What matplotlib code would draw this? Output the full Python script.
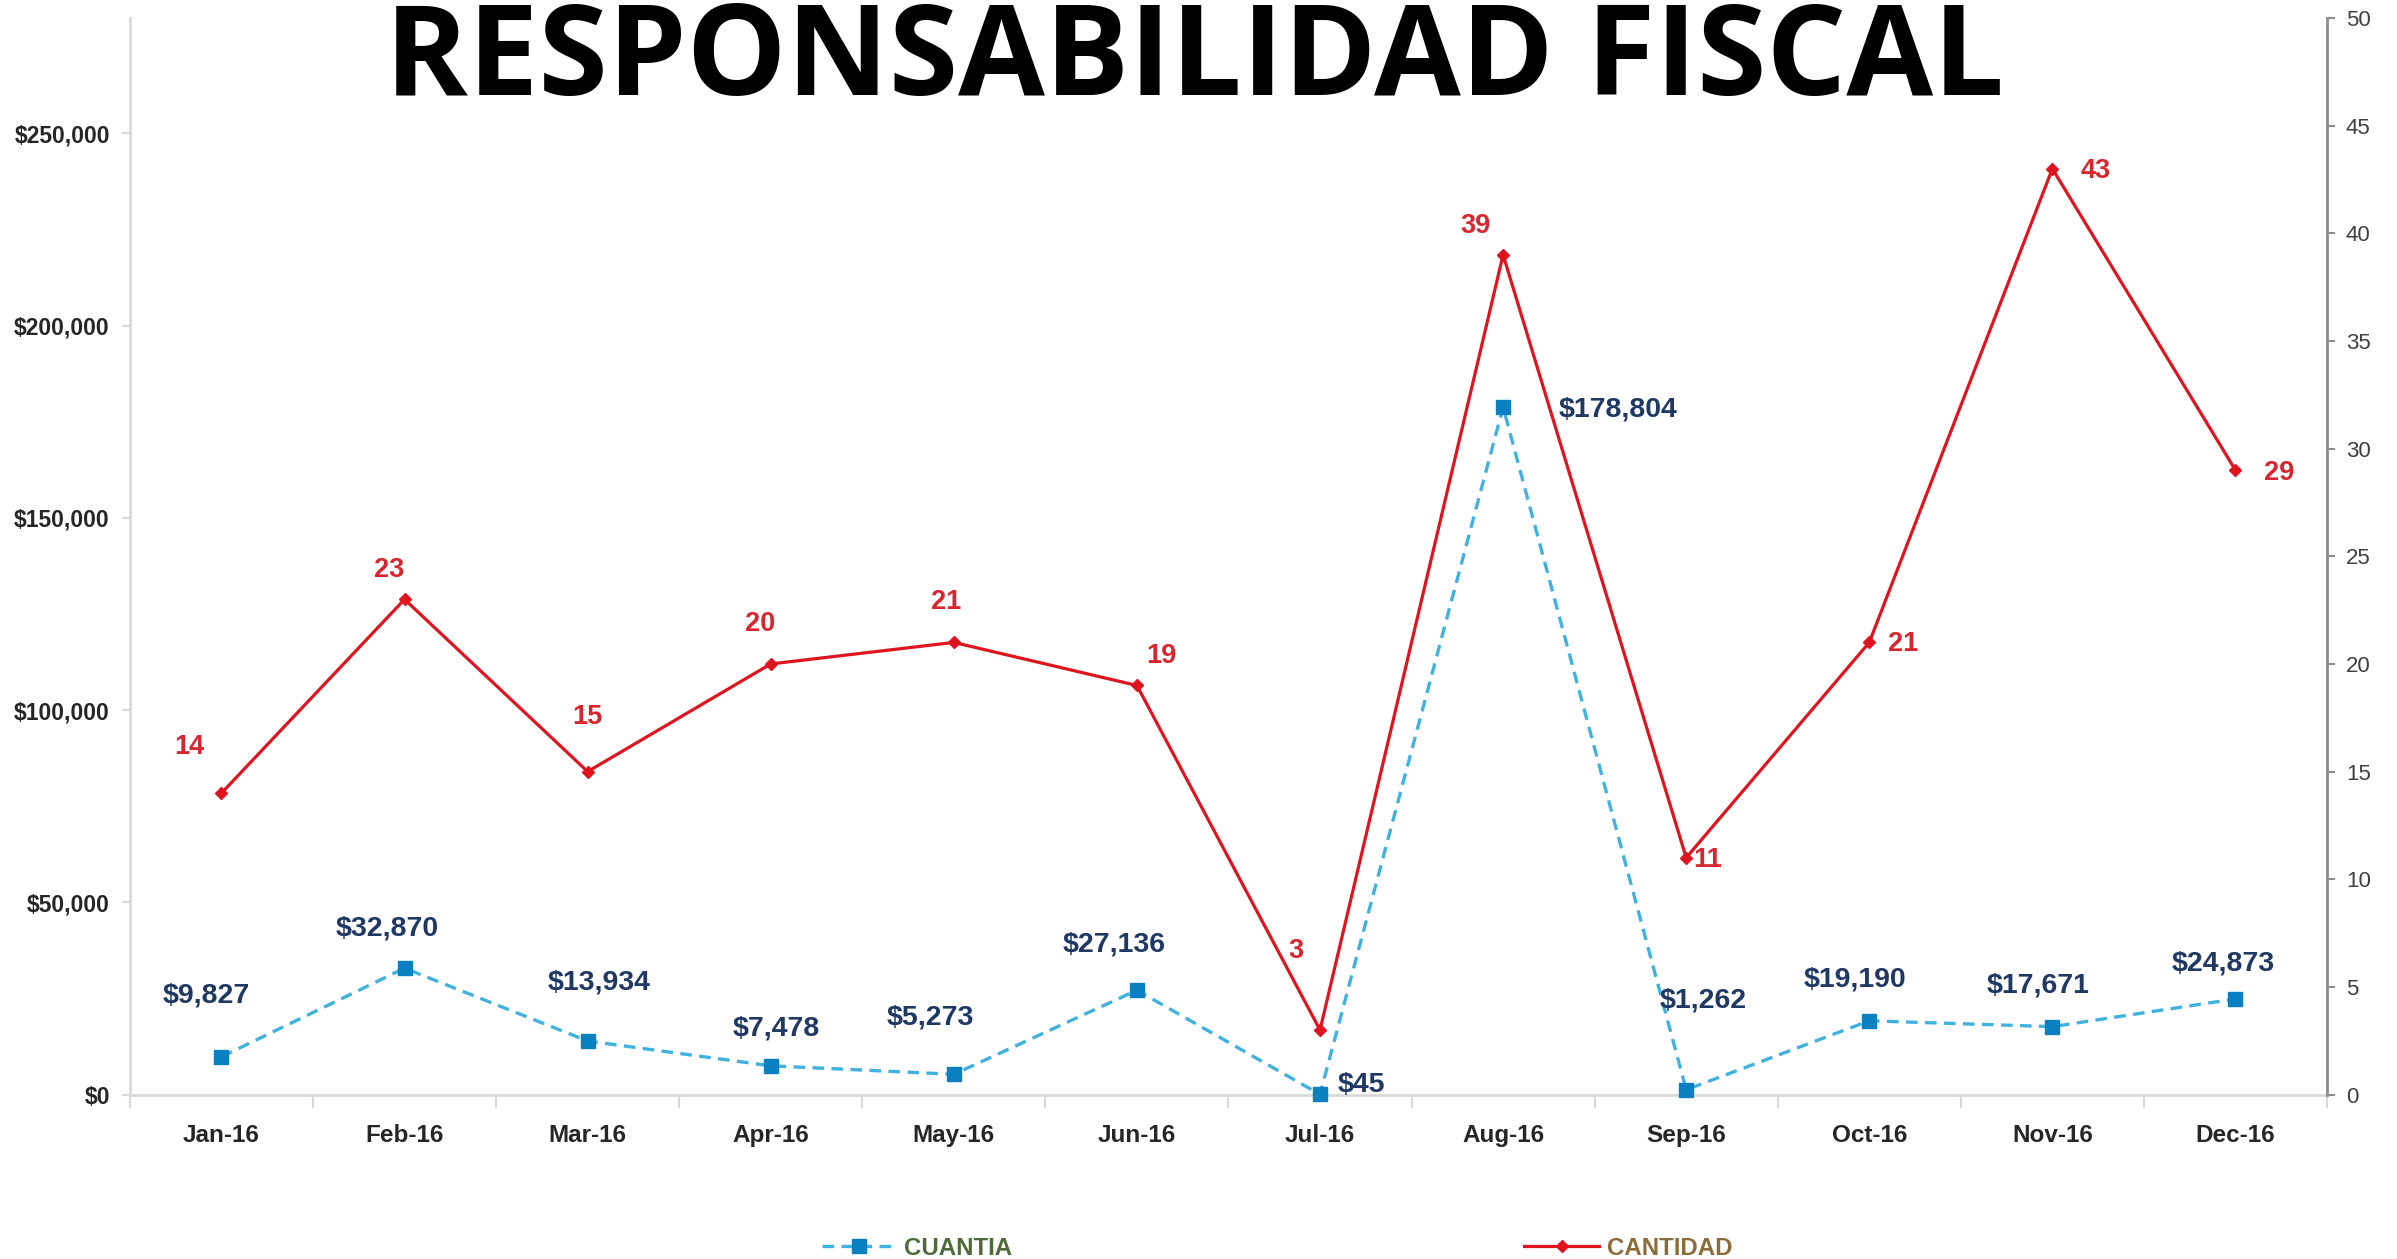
import matplotlib
matplotlib.use("Agg")
import matplotlib.pyplot as plt
from matplotlib.ticker import FuncFormatter, FixedLocator, NullFormatter
from matplotlib import font_manager as fm

months = ["Jan-16", "Feb-16", "Mar-16", "Apr-16", "May-16", "Jun-16",
          "Jul-16", "Aug-16", "Sep-16", "Oct-16", "Nov-16", "Dec-16"]
cuantia = [9827, 32870, 13934, 7478, 5273, 27136, 45, 178804, 1262, 19190, 17671, 24873]
cantidad = [14, 23, 15, 20, 21, 19, 3, 39, 11, 21, 43, 29]
left_ticks = [0, 50000, 100000, 150000, 200000, 250000]
right_ticks = [0, 5, 10, 15, 20, 25, 30, 35, 40, 45, 50]

# label offsets in pixels (dx, dy)
cuantia_off = [(-15, 61), (-17, 40), (11, 58), (6, 37), (-24, 57), (-23, 46),
               (41, 9), (115, -2), (17, 89), (-14, 41), (-14, 41), (-12, 35)]
cantidad_off = [(-32, 46), (-15, 29), (0, 55), (-11, 40), (-8, 40), (24, 29),
                (-24, 79), (-28, 29), (21, -2), (34, -2), (43, -2), (44, -3)]

names = {f.name for f in fm.fontManager.ttflist}
SANS = "Liberation Sans" if "Liberation Sans" in names else "DejaVu Sans"
TITLE = "Open Sans" if "Open Sans" in names else "DejaVu Sans"

plt.rcParams["font.family"] = SANS

fig = plt.figure(figsize=(23.97, 12.59), dpi=100)
ax = fig.add_axes([0.0542, 0.1306, 0.9166, 0.8551])
ax2 = ax.twinx()

x = list(range(len(months)))
BLUE_LINE = "#41B2DF"
BLUE_MARK = "#0A80C0"
RED = "#E0141E"
NAVY = "#1F3864"

l1, = ax.plot(x, cuantia, color=BLUE_LINE, lw=2.4, linestyle=(0, (3.5, 2.2)),
              marker="s", markersize=10.5, markerfacecolor=BLUE_MARK,
              markeredgecolor=BLUE_MARK, zorder=3, clip_on=False)
l2, = ax2.plot(x, cantidad, color=RED, lw=2.3, marker="D", markersize=6.5,
               markerfacecolor=RED, markeredgecolor=RED, zorder=3, clip_on=False)

ax.set_xlim(-0.5, 11.5)
ax.set_ylim(0, 280000)
ax2.set_ylim(0, 50)

# x axis
ax.xaxis.set_major_locator(FixedLocator([i - 0.5 for i in range(13)]))
ax.xaxis.set_major_formatter(NullFormatter())
ax.xaxis.set_minor_locator(FixedLocator(x))
ax.xaxis.set_minor_formatter(FuncFormatter(lambda v, p: months[int(round(v))]))
ax.tick_params(axis="x", which="major", length=9, width=1.5, color="#D9D9D9", direction="out")
ax.tick_params(axis="x", which="minor", length=0, pad=21.5, labelsize=17.5, labelcolor="#262626")
for t in ax.get_xticklabels(minor=True):
    t.set_fontweight("bold")

ax.set_yticks(left_ticks)
ax.yaxis.set_major_formatter(FuncFormatter(lambda v, p: "${:,.0f}".format(v)))
ax.tick_params(axis="y", length=5.5, width=1.5, color="#D9D9D9", labelsize=16.5, labelcolor="#262626", pad=9)
for t in ax.get_yticklabels():
    t.set_fontweight("bold")

ax2.set_yticks(right_ticks)
ax2.tick_params(axis="y", length=5.5, width=1.5, color="#8C8C8C", labelsize=16, labelcolor="#404040", pad=8)

for a in (ax, ax2):
    a.spines["top"].set_visible(False)
    a.spines["left"].set_color("#D9D9D9")
    a.spines["left"].set_linewidth(2)
    a.spines["bottom"].set_color("#D9D9D9")
    a.spines["bottom"].set_linewidth(2)
    a.spines["right"].set_color("#8C8C8C")
    a.spines["right"].set_linewidth(2)
ax2.spines["left"].set_visible(False)
ax2.spines["bottom"].set_visible(False)
ax.spines["right"].set_visible(False)

for i, v in enumerate(cuantia):
    ax.annotate("${:,.0f}".format(v), (x[i], v), xytext=cuantia_off[i],
                textcoords="offset pixels", ha="center", va="center",
                fontsize=20.5, fontweight="bold", color=NAVY, zorder=5)
for i, v in enumerate(cantidad):
    ax2.annotate(str(v), (x[i], v), xytext=cantidad_off[i],
                 textcoords="offset pixels", ha="center", va="center",
                 fontsize=19.5, fontweight="bold", color="#D9262E", zorder=5)

fig.text(0.4985, 1 - 95 / 1259, "RESPONSABILIDAD FISCAL", ha="center", va="baseline",
         fontsize=90.5, fontweight="bold", family=TITLE, color="black")

leg = fig.legend([l1, l2], ["CUANTIA", "CANTIDAD"], ncol=2, loc="center",
                 bbox_to_anchor=(0.5328, 0.0085), frameon=False,
                 prop={"family": SANS, "size": 17.3, "weight": "bold"},
                 handlelength=3.1, handletextpad=0.33, columnspacing=21.3,
                 borderpad=0)
leg.get_texts()[0].set_color("#4F6B3A")
leg.get_texts()[1].set_color("#8C6D3A")

fig.savefig("out.png", dpi=100)
